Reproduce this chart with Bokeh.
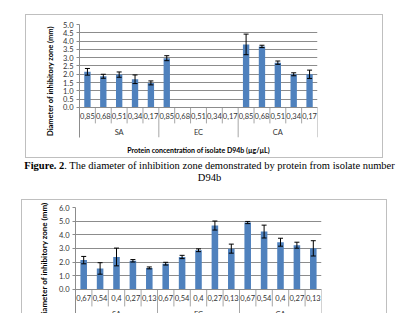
from bokeh.plotting import figure
from bokeh.models import (FactorRange, Range1d, FixedTicker, PrintfTickFormatter,
                          Whisker, TeeHead, ColumnDataSource, Title, Div)
from bokeh.layouts import column
from bokeh.embed import file_html
from bokeh.resources import INLINE

# ---------------- data ----------------
groups = ["SA", "EC", "CA"]

# Figure 2 (isolate D94b)
conc1 = ["0,85", "0,68", "0,51", "0,34", "0,17"]
sa1 = [2.15, 1.88, 1.98, 1.70, 1.48]
ec1 = [2.97, 0.0, 0.0, 0.0, 0.0]
ca1 = [3.80, 3.68, 2.70, 2.00, 2.00]
sa1_err = [0.20, 0.12, 0.16, 0.26, 0.12]
ec1_err = [0.15, 0.0, 0.0, 0.0, 0.0]
ca1_err = [0.62, 0.07, 0.10, 0.09, 0.25]
yticks1 = [0.0, 0.5, 1.0, 1.5, 2.0, 2.5, 3.0, 3.5, 4.0, 4.5, 5.0]

# Figure 3 (second isolate)
conc2 = ["0,67", "0,54", "0,4", "0,27", "0,13"]
sa2 = [2.15, 1.54, 2.38, 2.10, 1.58]
ec2 = [1.89, 2.38, 2.87, 4.68, 2.99]
ca2 = [4.90, 4.24, 3.46, 3.24, 3.01]
sa2_err = [0.27, 0.42, 0.65, 0.09, 0.07]
ec2_err = [0.10, 0.12, 0.10, 0.33, 0.33]
ca2_err = [0.08, 0.47, 0.29, 0.22, 0.56]
yticks2 = [0.0, 1.0, 2.0, 3.0, 4.0, 5.0, 6.0]

ytitle = "Diameter of inhibitory zone (mm)"
xtitle1 = "Protein concentration of isolate D94b (µg/µL)"

FONT = "Lato"
BAR = "#4F81BD"
GRID = "#8C8C8C"
SEP = "#A6A6A6"
TXT = "#333333"


def build(conc, series, errors, yticks, w, h, left, right, top, bottom,
          y_low, sub_depth, grp_depth, y_standoff, ytitle_size, xtitle=None):
    factors = [(g, c) for g in groups for c in conc]
    tops = [v for s in series for v in s]
    errs = [e for s in errors for e in s]
    xr = FactorRange(*factors, range_padding=0, group_padding=0, factor_padding=0)
    p = figure(x_range=xr, y_range=Range1d(y_low, yticks[-1]), width=w, height=h,
               output_backend="svg", toolbar_location=None,
               min_border_left=left, min_border_right=right,
               min_border_top=top, min_border_bottom=bottom)
    p.outline_line_color = None
    p.background_fill_color = "white"
    p.border_fill_color = "white"

    # bars
    p.vbar(x=factors, top=tops, width=0.4, fill_color=BAR, line_color=None)

    # error bars
    keep = [i for i, e in enumerate(errs) if e > 0]
    wsrc = ColumnDataSource(dict(
        x=[factors[i] for i in keep],
        upper=[tops[i] + errs[i] for i in keep],
        lower=[tops[i] - errs[i] for i in keep]))
    wk = Whisker(source=wsrc, base="x", upper="upper", lower="lower",
                 dimension="height", line_color="black", line_width=1,
                 upper_head=TeeHead(size=5, line_color="black", line_width=1),
                 lower_head=TeeHead(size=5, line_color="black", line_width=1),
                 level="annotation")
    p.add_layout(wk)

    # category separators in the label rows (synthetic positions of the factor range)
    n = len(factors)
    k = len(conc)
    bx = [float(b) for b in range(1, n + 1)]
    by1 = [grp_depth if b % k == 0 else sub_depth for b in range(1, n + 1)]
    ssrc = ColumnDataSource(dict(x=bx, y0=[0.0] * len(bx), y1=by1))
    p.segment(x0="x", y0="y0", x1="x", y1="y1", source=ssrc,
              line_color=SEP, line_width=1)

    # x axis (categorical, fixed at y = 0)
    xa = p.xaxis[0]
    xa.fixed_location = 0
    xa.major_tick_line_color = None
    xa.major_tick_out = 0
    xa.major_tick_in = 0
    xa.axis_line_color = GRID
    xa.major_label_text_font = FONT
    xa.major_label_text_font_size = "7.5px"
    xa.major_label_text_color = TXT
    xa.major_label_standoff = 6
    xa.group_text_font = FONT
    xa.group_text_font_size = "7.5px"
    xa.group_text_font_style = "normal"
    xa.group_text_color = TXT
    xa.separator_line_color = None
    p.xgrid.visible = False

    # y axis (its line also closes the label rows on the left)
    ya = p.yaxis[0]
    ya.bounds = (grp_depth, yticks[-1])
    ya.ticker = FixedTicker(ticks=yticks)
    ya.formatter = PrintfTickFormatter(format="%.1f")
    ya.major_tick_out = 3
    ya.major_tick_in = 0
    ya.minor_tick_line_color = None
    ya.major_tick_line_color = GRID
    ya.axis_line_color = GRID
    ya.major_label_text_font = FONT
    ya.major_label_text_font_size = "7.5px"
    ya.major_label_text_color = TXT
    ya.major_label_standoff = 3
    ya.axis_label = ytitle
    ya.axis_label_text_font = FONT
    ya.axis_label_text_font_size = ytitle_size
    ya.axis_label_text_font_style = "bold"
    ya.axis_label_text_color = "black"
    ya.axis_label_standoff = y_standoff
    p.ygrid.grid_line_color = GRID

    if xtitle:
        t = Title(text=xtitle, align="center", text_font=FONT, text_font_size="7px",
                  text_font_style="bold", text_color="black", standoff=12, offset=0)
        p.add_layout(t, "below")
    return p


p1 = build(conc1, [sa1, ec1, ca1], [sa1_err, ec1_err, ca1_err], yticks1,
           w=358, h=144, left=53, right=67, top=9, bottom=22,
           y_low=-1.81, sub_depth=-0.96, grp_depth=-1.81, y_standoff=5,
           ytitle_size="7.5px", xtitle=xtitle1)
p1.styles = {"border": "1px solid #BFBFBF"}
p1.margin = (14, 0, 0, 25)

cap = Div(text="<b>Figure. 2</b>. The diameter of inhibition zone demonstrated by protein "
               "from isolate number<br>D94b",
          width=419, height=24, margin=(2, 0, 0, 0),
          styles={"font-family": "Liberation Serif", "font-size": "10.5px",
                  "line-height": "12px", "text-align": "center", "color": "black"})

p2 = build(conc2, [sa2, ec2, ca2], [sa2_err, ec2_err, ca2_err], yticks2,
           w=366, h=114, left=41, right=65, top=7, bottom=0,
           y_low=-1.83, sub_depth=-1.24, grp_depth=-1.83, y_standoff=7,
           ytitle_size="8px")
p2.styles = {"border": "1px solid #BFBFBF", "border-bottom": "none"}
p2.margin = (15, 0, 0, 21)

layout = column(p1, cap, p2, margin=(0, 0, 0, 0))
html = file_html(layout, INLINE)
open("out.html", "w").write(html)
